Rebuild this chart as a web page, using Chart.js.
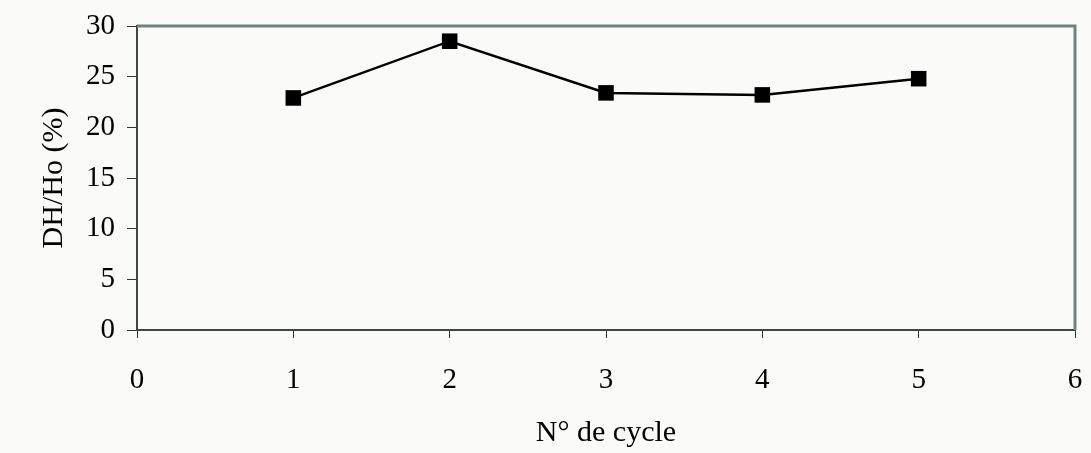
<!DOCTYPE html>
<html>
<head>
<meta charset="utf-8">
<script src="https://cdn.jsdelivr.net/npm/chart.js@4"></script>
<style>
  html, body { margin: 0; padding: 0; background: #fafaf8; }
  #wrap { width: 1091px; height: 453px; }
</style>
</head>
<body>
<div id="wrap"><canvas id="line-chart" width="1091" height="453"></canvas></div>
<script>
const cycles = [1, 2, 3, 4, 5];
const dhHo = [22.9, 28.5, 23.4, 23.2, 24.8];
const xTicks = [0, 1, 2, 3, 4, 5, 6];
const yTicks = [0, 5, 10, 15, 20, 25, 30];

const ctx = document.getElementById('line-chart');

// cadre gris en haut et à droite de la zone de tracé
const frame = {
  id: 'frame',
  beforeDatasetsDraw(chart) {
    const { ctx, chartArea: a } = chart;
    ctx.save();
    ctx.strokeStyle = '#738080';
    ctx.lineWidth = 3;
    ctx.beginPath();
    ctx.moveTo(a.left, a.top);
    ctx.lineTo(a.right, a.top);
    ctx.lineTo(a.right, a.bottom);
    ctx.stroke();
    ctx.restore();
  },
};

const tickFont = { family: 'Liberation Serif', size: 29 };
const titleFont = { family: 'Liberation Serif', size: 30 };

new Chart(ctx, {
  type: 'line',
  data: {
    datasets: [
      {
        label: 'DH/Ho',
        data: cycles.map((c, i) => ({ x: c, y: dhHo[i] })),
        borderColor: '#000',
        borderWidth: 2.5,
        pointStyle: 'rect',
        pointRadius: 11,
        pointBackgroundColor: '#000',
        pointBorderWidth: 0,
        tension: 0,
      },
    ],
  },
  options: {
    responsive: false,
    animation: false,
    layout: {
      padding: { top: 26, right: 16, bottom: 0, left: 20 },
    },
    scales: {
      x: {
        type: 'linear',
        min: 0,
        max: 6,
        afterBuildTicks: (s) => { s.ticks = xTicks.map((v) => ({ value: v })); },
        afterFit: (s) => {
          s.height = 123;
          s.paddingLeft = 0;
          s.paddingRight = 0;
        },
        grid: { display: true, drawOnChartArea: false, tickLength: 8, color: '#333' },
        border: { color: '#3e4646', width: 2 },
        ticks: { padding: 25, color: '#000', font: tickFont },
        title: {
          display: true,
          text: 'N° de cycle',
          color: '#000',
          padding: { top: 0, bottom: 2 },
          font: titleFont,
        },
      },
      y: {
        min: 0,
        max: 30,
        afterBuildTicks: (s) => { s.ticks = yTicks.map((v) => ({ value: v })); },
        afterFit: (s) => {
          s.width = 117;
          s.paddingTop = 0;
          s.paddingBottom = 0;
        },
        grid: { display: true, drawOnChartArea: false, tickLength: 10, color: '#333' },
        border: { color: '#3e4646', width: 2 },
        ticks: { padding: 12, color: '#000', font: tickFont },
        title: {
          display: true,
          text: 'DH/Ho (%)',
          color: '#000',
          padding: { top: 16, bottom: 0 },
          font: titleFont,
        },
      },
    },
    plugins: {
      legend: { display: false },
      tooltip: { enabled: false },
    },
  },
  plugins: [frame],
});
</script>
</body>
</html>
